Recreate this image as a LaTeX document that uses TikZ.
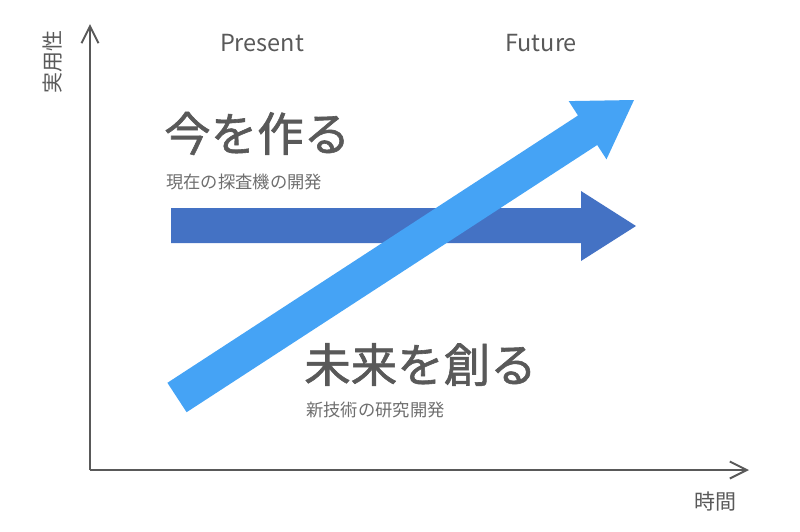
\documentclass[tikz,border=0pt]{standalone}
\usepackage{fontspec}
\setmainfont{Noto Sans CJK JP}
\newfontfamily\heavycjk[FakeBold=1.3]{Noto Sans CJK JP}
\usetikzlibrary{arrows.meta}
\definecolor{axisgray}{HTML}{595959}
\definecolor{textgray}{HTML}{595959}
\definecolor{subgray}{HTML}{6E6E6E}
\definecolor{darkblue}{HTML}{4472C4}
\definecolor{lightblue}{HTML}{45A3F5}
\tikzset{
  axis/.style={draw=axisgray, line width=2pt, -{Straight Barb[length=17pt,width=17pt,line width=2pt]}},
  bigtxt/.style={text=textgray, font=\heavycjk\fontsize{46.5}{50}\selectfont, inner sep=0pt, anchor=west},
  subtxt/.style={text=subgray, font=\fontsize{17.3}{20}\selectfont, inner sep=0pt, anchor=west},
  axtxt/.style={text=axisgray, font=\fontsize{21}{24}\selectfont, inner sep=0pt},
  phase/.style={text=axisgray, font=\fontsize{23.5}{28}\selectfont, inner sep=0pt},
}
\begin{document}
\begin{tikzpicture}[x=1pt,y=-1pt]
\useasboundingbox (0,0) rectangle (800,531);
% axes
\coordinate (origin) at (90,470);
\coordinate (ytop) at (90,24);
\coordinate (xend) at (749,470);
\draw[axis] (origin) -- (ytop);
\draw[axis] (origin) -- (xend);
% horizontal arrow (present)
\fill[darkblue] (171,208) -- (581,208) -- (581,191) -- (636,226) -- (581,261) -- (581,243) -- (171,243) -- cycle;
% diagonal arrow (future)
\fill[lightblue] (167.4,382.8) -- (578,115.5) -- (568.7,101.1) -- (634,100) -- (606.5,159.3) -- (597.2,145) -- (186.6,412.2) -- cycle;
% texts
\node[phase] (present) at (262,43) {Present};
\node[phase] (future) at (541,43) {Future};
\node[bigtxt] (now) at (164,133.5) {今を作る};
\node[subtxt] (nowsub) at (166,182) {現在の探査機の開発};
\node[bigtxt] (fut) at (304,364.5) {未来を創る};
\node[subtxt] (futsub) at (306,409.5) {新技術の研究開発};
\node[axtxt] (xlabel) at (715,502) {時間};
\node[axtxt, rotate=90] (ylabel) at (53,62) {実用性};
\end{tikzpicture}
\end{document}
